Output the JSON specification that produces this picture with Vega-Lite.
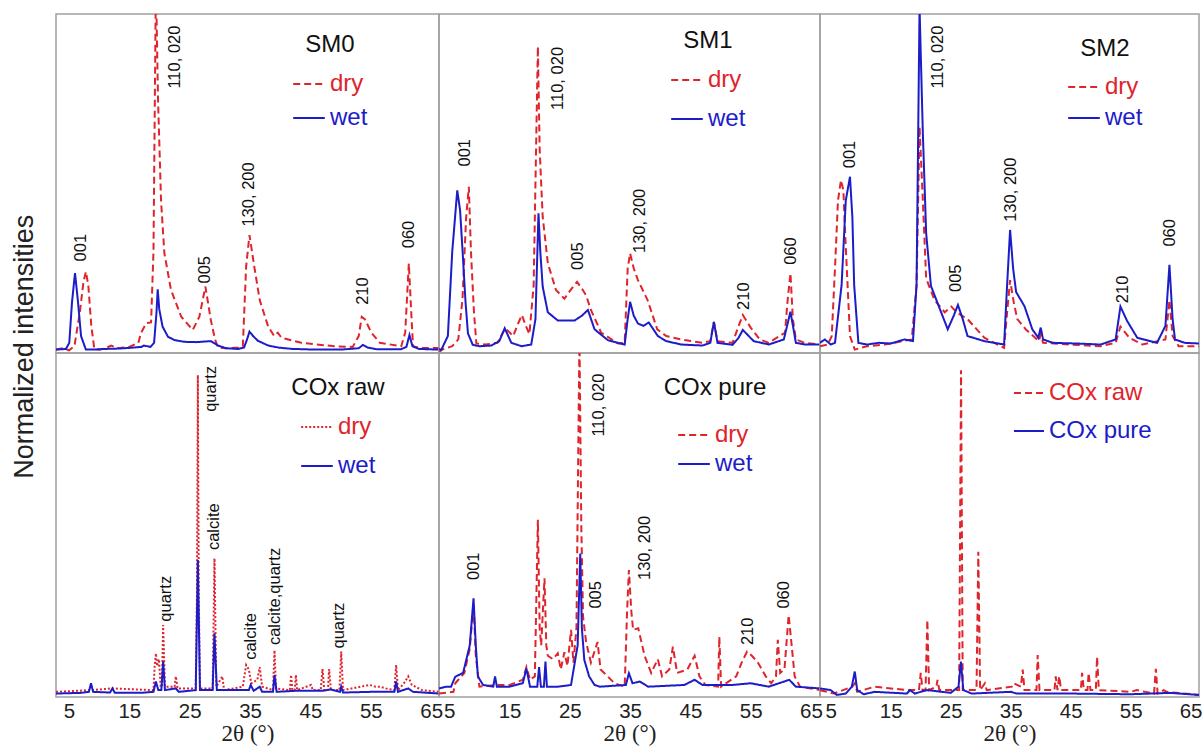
{
"$schema": "https://vega.github.io/schema/vega-lite/v6.json",
"background": "white",
"padding": {"left": 11, "top": 13, "right": 0, "bottom": 0},
"title": {"text": "Normalized intensities", "orient": "left", "anchor": "middle", "fontSize": 27, "fontWeight": "normal", "font": "Liberation Sans", "color": "#222", "offset": 16, "dx": 33},
"config": {"view": {"stroke": "#a0a0a0", "strokeWidth": 1.5}, "font": "Liberation Sans"},
"columns": 3,
"spacing": 0,
"bounds": "flush",
"datasets": {
"sm0": [
{"x":2.85,"y":0.01,"s":"dry"},{"x":4,"y":0.014,"s":"dry"},{"x":5,"y":0.008,"s":"dry"},{"x":5.9,"y":0.02,"s":"dry"},{"x":6.8,"y":0.12,"s":"dry"},{"x":7.4,"y":0.21,"s":"dry"},{"x":7.8,"y":0.24,"s":"dry"},{"x":8.2,"y":0.2,"s":"dry"},{"x":8.7,"y":0.08,"s":"dry"},{"x":9.2,"y":0.012,"s":"dry"},{"x":10,"y":0.01,"s":"dry"},{"x":11,"y":0.014,"s":"dry"},{"x":12,"y":0.022,"s":"dry"},{"x":13,"y":0.014,"s":"dry"},{"x":15,"y":0.018,"s":"dry"},{"x":16.5,"y":0.03,"s":"dry"},{"x":16.9,"y":0.058,"s":"dry"},{"x":17.8,"y":0.088,"s":"dry"},{"x":18.6,"y":0.09,"s":"dry"},{"x":19.0,"y":0.3,"s":"dry"},{"x":19.4,"y":1.1,"s":"dry"},{"x":19.75,"y":0.75,"s":"dry"},{"x":20.25,"y":0.45,"s":"dry"},{"x":20.8,"y":0.295,"s":"dry"},{"x":21.9,"y":0.186,"s":"dry"},{"x":23.6,"y":0.107,"s":"dry"},{"x":25.5,"y":0.068,"s":"dry"},{"x":26.6,"y":0.107,"s":"dry"},{"x":27.6,"y":0.196,"s":"dry"},{"x":28.5,"y":0.097,"s":"dry"},{"x":29.2,"y":0.04,"s":"dry"},{"x":29.7,"y":0.016,"s":"dry"},{"x":31,"y":0.014,"s":"dry"},{"x":33,"y":0.016,"s":"dry"},{"x":33.8,"y":0.02,"s":"dry"},{"x":34.35,"y":0.255,"s":"dry"},{"x":34.9,"y":0.348,"s":"dry"},{"x":35.7,"y":0.255,"s":"dry"},{"x":36.6,"y":0.156,"s":"dry"},{"x":38.0,"y":0.078,"s":"dry"},{"x":39.0,"y":0.05,"s":"dry"},{"x":39.6,"y":0.06,"s":"dry"},{"x":40.2,"y":0.045,"s":"dry"},{"x":43.5,"y":0.03,"s":"dry"},{"x":46,"y":0.025,"s":"dry"},{"x":49,"y":0.02,"s":"dry"},{"x":52,"y":0.018,"s":"dry"},{"x":53.0,"y":0.05,"s":"dry"},{"x":53.5,"y":0.107,"s":"dry"},{"x":54.0,"y":0.1,"s":"dry"},{"x":55.1,"y":0.06,"s":"dry"},{"x":56.5,"y":0.03,"s":"dry"},{"x":60.05,"y":0.02,"s":"dry"},{"x":60.7,"y":0.06,"s":"dry"},{"x":61.3,"y":0.264,"s":"dry"},{"x":61.7,"y":0.12,"s":"dry"},{"x":62.0,"y":0.02,"s":"dry"},{"x":63,"y":0.015,"s":"dry"},{"x":66.3,"y":0.015,"s":"dry"},
{"x":2.85,"y":0.01,"s":"wet"},{"x":4.5,"y":0.012,"s":"wet"},{"x":5.05,"y":0.03,"s":"wet"},{"x":5.5,"y":0.15,"s":"wet"},{"x":6.0,"y":0.236,"s":"wet"},{"x":6.5,"y":0.15,"s":"wet"},{"x":7.0,"y":0.05,"s":"wet"},{"x":7.8,"y":0.01,"s":"wet"},{"x":9,"y":0.01,"s":"wet"},{"x":11,"y":0.012,"s":"wet"},{"x":13,"y":0.013,"s":"wet"},{"x":15,"y":0.015,"s":"wet"},{"x":17.0,"y":0.018,"s":"wet"},{"x":17.4,"y":0.022,"s":"wet"},{"x":18.5,"y":0.018,"s":"wet"},{"x":19.1,"y":0.03,"s":"wet"},{"x":19.5,"y":0.12,"s":"wet"},{"x":19.7,"y":0.188,"s":"wet"},{"x":19.95,"y":0.13,"s":"wet"},{"x":20.5,"y":0.078,"s":"wet"},{"x":21.4,"y":0.048,"s":"wet"},{"x":22.5,"y":0.038,"s":"wet"},{"x":24.1,"y":0.033,"s":"wet"},{"x":26,"y":0.032,"s":"wet"},{"x":28.5,"y":0.035,"s":"wet"},{"x":29.7,"y":0.022,"s":"wet"},{"x":31,"y":0.014,"s":"wet"},{"x":33,"y":0.012,"s":"wet"},{"x":34.0,"y":0.016,"s":"wet"},{"x":34.5,"y":0.04,"s":"wet"},{"x":34.9,"y":0.063,"s":"wet"},{"x":35.5,"y":0.05,"s":"wet"},{"x":36.3,"y":0.036,"s":"wet"},{"x":38,"y":0.022,"s":"wet"},{"x":39.7,"y":0.016,"s":"wet"},{"x":42,"y":0.012,"s":"wet"},{"x":46,"y":0.01,"s":"wet"},{"x":50,"y":0.01,"s":"wet"},{"x":53,"y":0.014,"s":"wet"},{"x":53.7,"y":0.024,"s":"wet"},{"x":54.5,"y":0.016,"s":"wet"},{"x":56,"y":0.011,"s":"wet"},{"x":60,"y":0.011,"s":"wet"},{"x":60.9,"y":0.018,"s":"wet"},{"x":61.4,"y":0.053,"s":"wet"},{"x":61.9,"y":0.02,"s":"wet"},{"x":63,"y":0.012,"s":"wet"},{"x":66.3,"y":0.01,"s":"wet"}
],
"sm0lab": [{"x":7.0,"y":0.27,"t":"001"},{"x":22.5,"y":0.78,"t":"110, 020"},{"x":27.55,"y":0.205,"t":"005"},{"x":34.9,"y":0.373,"t":"130, 200"},{"x":53.7,"y":0.142,"t":"210"},{"x":61.3,"y":0.309,"t":"060"}],
"sm1": [
{"x":3.3,"y":0.0,"s":"dry"},{"x":3.67,"y":0.009,"s":"dry"},{"x":5.5,"y":0.02,"s":"dry"},{"x":6.5,"y":0.04,"s":"dry"},{"x":7.2,"y":0.16,"s":"dry"},{"x":7.8,"y":0.4,"s":"dry"},{"x":8.25,"y":0.49,"s":"dry"},{"x":8.6,"y":0.3,"s":"dry"},{"x":9.1,"y":0.12,"s":"dry"},{"x":9.5,"y":0.028,"s":"dry"},{"x":11,"y":0.025,"s":"dry"},{"x":13,"y":0.03,"s":"dry"},{"x":14.3,"y":0.073,"s":"dry"},{"x":15.6,"y":0.05,"s":"dry"},{"x":16.5,"y":0.09,"s":"dry"},{"x":17.05,"y":0.112,"s":"dry"},{"x":17.7,"y":0.08,"s":"dry"},{"x":18.3,"y":0.056,"s":"dry"},{"x":19.0,"y":0.2,"s":"dry"},{"x":19.4,"y":0.6,"s":"dry"},{"x":19.7,"y":0.904,"s":"dry"},{"x":20.0,"y":0.6,"s":"dry"},{"x":20.5,"y":0.402,"s":"dry"},{"x":21.35,"y":0.265,"s":"dry"},{"x":22.7,"y":0.186,"s":"dry"},{"x":24.1,"y":0.16,"s":"dry"},{"x":25.3,"y":0.19,"s":"dry"},{"x":26.2,"y":0.21,"s":"dry"},{"x":27.0,"y":0.19,"s":"dry"},{"x":27.7,"y":0.17,"s":"dry"},{"x":28.5,"y":0.127,"s":"dry"},{"x":30.2,"y":0.06,"s":"dry"},{"x":33,"y":0.028,"s":"dry"},{"x":34.1,"y":0.03,"s":"dry"},{"x":34.6,"y":0.25,"s":"dry"},{"x":35.0,"y":0.294,"s":"dry"},{"x":35.6,"y":0.25,"s":"dry"},{"x":36.3,"y":0.215,"s":"dry"},{"x":37.9,"y":0.156,"s":"dry"},{"x":39.5,"y":0.07,"s":"dry"},{"x":41,"y":0.05,"s":"dry"},{"x":43.5,"y":0.04,"s":"dry"},{"x":47,"y":0.03,"s":"dry"},{"x":48.3,"y":0.035,"s":"dry"},{"x":48.9,"y":0.092,"s":"dry"},{"x":49.5,"y":0.035,"s":"dry"},{"x":52,"y":0.03,"s":"dry"},{"x":53.0,"y":0.08,"s":"dry"},{"x":53.7,"y":0.112,"s":"dry"},{"x":55,"y":0.075,"s":"dry"},{"x":56.5,"y":0.04,"s":"dry"},{"x":58,"y":0.03,"s":"dry"},{"x":60.7,"y":0.06,"s":"dry"},{"x":61.1,"y":0.15,"s":"dry"},{"x":61.6,"y":0.235,"s":"dry"},{"x":62.0,"y":0.1,"s":"dry"},{"x":62.5,"y":0.04,"s":"dry"},{"x":64,"y":0.03,"s":"dry"},{"x":66.5,"y":0.025,"s":"dry"},
{"x":3.3,"y":0.012,"s":"wet"},{"x":3.67,"y":0.009,"s":"wet"},{"x":4.77,"y":0.05,"s":"wet"},{"x":5.5,"y":0.3,"s":"wet"},{"x":6.33,"y":0.48,"s":"wet"},{"x":6.8,"y":0.42,"s":"wet"},{"x":7.2,"y":0.304,"s":"wet"},{"x":7.7,"y":0.15,"s":"wet"},{"x":8.1,"y":0.058,"s":"wet"},{"x":8.9,"y":0.024,"s":"wet"},{"x":10,"y":0.02,"s":"wet"},{"x":12,"y":0.022,"s":"wet"},{"x":13.3,"y":0.035,"s":"wet"},{"x":14.2,"y":0.073,"s":"wet"},{"x":15.3,"y":0.03,"s":"wet"},{"x":17,"y":0.02,"s":"wet"},{"x":18.6,"y":0.025,"s":"wet"},{"x":19.3,"y":0.1,"s":"wet"},{"x":19.8,"y":0.412,"s":"wet"},{"x":20.1,"y":0.3,"s":"wet"},{"x":20.5,"y":0.196,"s":"wet"},{"x":21.35,"y":0.12,"s":"wet"},{"x":23,"y":0.096,"s":"wet"},{"x":25.8,"y":0.096,"s":"wet"},{"x":27.0,"y":0.11,"s":"wet"},{"x":28.0,"y":0.127,"s":"wet"},{"x":29.1,"y":0.07,"s":"wet"},{"x":31.3,"y":0.038,"s":"wet"},{"x":34.1,"y":0.025,"s":"wet"},{"x":34.6,"y":0.1,"s":"wet"},{"x":35.0,"y":0.151,"s":"wet"},{"x":35.6,"y":0.11,"s":"wet"},{"x":36.3,"y":0.087,"s":"wet"},{"x":37.2,"y":0.08,"s":"wet"},{"x":38.1,"y":0.09,"s":"wet"},{"x":39.6,"y":0.05,"s":"wet"},{"x":41,"y":0.035,"s":"wet"},{"x":43.5,"y":0.025,"s":"wet"},{"x":47,"y":0.022,"s":"wet"},{"x":48.3,"y":0.03,"s":"wet"},{"x":48.9,"y":0.092,"s":"wet"},{"x":49.5,"y":0.03,"s":"wet"},{"x":52,"y":0.024,"s":"wet"},{"x":53.0,"y":0.045,"s":"wet"},{"x":53.7,"y":0.068,"s":"wet"},{"x":55.5,"y":0.035,"s":"wet"},{"x":58,"y":0.025,"s":"wet"},{"x":60.5,"y":0.04,"s":"wet"},{"x":61.6,"y":0.122,"s":"wet"},{"x":62.5,"y":0.03,"s":"wet"},{"x":64,"y":0.025,"s":"wet"},{"x":66.5,"y":0.025,"s":"wet"}
],
"sm1lab": [{"x":7.54,"y":0.55,"t":"001"},{"x":23.0,"y":0.717,"t":"110, 020"},{"x":26.35,"y":0.245,"t":"005"},{"x":36.56,"y":0.295,"t":"130, 200"},{"x":53.97,"y":0.127,"t":"210"},{"x":61.7,"y":0.26,"t":"060"}],
"sm2": [
{"x":3.2,"y":0.02,"s":"dry"},{"x":4.5,"y":0.025,"s":"dry"},{"x":5.16,"y":0.05,"s":"dry"},{"x":5.7,"y":0.25,"s":"dry"},{"x":6.2,"y":0.45,"s":"dry"},{"x":6.7,"y":0.51,"s":"dry"},{"x":7.1,"y":0.48,"s":"dry"},{"x":7.4,"y":0.35,"s":"dry"},{"x":8.2,"y":0.05,"s":"dry"},{"x":9.0,"y":0.01,"s":"dry"},{"x":11,"y":0.02,"s":"dry"},{"x":14,"y":0.025,"s":"dry"},{"x":17,"y":0.035,"s":"dry"},{"x":18.5,"y":0.04,"s":"dry"},{"x":19.3,"y":0.2,"s":"dry"},{"x":19.8,"y":0.667,"s":"dry"},{"x":20.35,"y":0.45,"s":"dry"},{"x":20.9,"y":0.22,"s":"dry"},{"x":22.3,"y":0.156,"s":"dry"},{"x":24.0,"y":0.12,"s":"dry"},{"x":25.1,"y":0.137,"s":"dry"},{"x":26.0,"y":0.12,"s":"dry"},{"x":27.8,"y":0.1,"s":"dry"},{"x":30.6,"y":0.045,"s":"dry"},{"x":33.9,"y":0.015,"s":"dry"},{"x":34.4,"y":0.12,"s":"dry"},{"x":34.9,"y":0.215,"s":"dry"},{"x":35.5,"y":0.15,"s":"dry"},{"x":36.1,"y":0.1,"s":"dry"},{"x":37.5,"y":0.07,"s":"dry"},{"x":39.7,"y":0.035,"s":"dry"},{"x":40.0,"y":0.055,"s":"dry"},{"x":40.4,"y":0.03,"s":"dry"},{"x":45,"y":0.025,"s":"dry"},{"x":50,"y":0.02,"s":"dry"},{"x":52.5,"y":0.03,"s":"dry"},{"x":53.3,"y":0.078,"s":"dry"},{"x":54.8,"y":0.045,"s":"dry"},{"x":57,"y":0.025,"s":"dry"},{"x":60.8,"y":0.04,"s":"dry"},{"x":61.47,"y":0.156,"s":"dry"},{"x":62.0,"y":0.05,"s":"dry"},{"x":63,"y":0.02,"s":"dry"},{"x":66.4,"y":0.02,"s":"dry"},
{"x":3.2,"y":0.03,"s":"wet"},{"x":4,"y":0.04,"s":"wet"},{"x":5,"y":0.025,"s":"wet"},{"x":5.7,"y":0.03,"s":"wet"},{"x":6.8,"y":0.2,"s":"wet"},{"x":7.5,"y":0.45,"s":"wet"},{"x":8.2,"y":0.52,"s":"wet"},{"x":8.6,"y":0.4,"s":"wet"},{"x":8.9,"y":0.2,"s":"wet"},{"x":9.6,"y":0.03,"s":"wet"},{"x":11,"y":0.025,"s":"wet"},{"x":13,"y":0.03,"s":"wet"},{"x":15,"y":0.028,"s":"wet"},{"x":17.3,"y":0.04,"s":"wet"},{"x":18.7,"y":0.035,"s":"wet"},{"x":19.3,"y":0.2,"s":"wet"},{"x":19.8,"y":1.02,"s":"wet"},{"x":20.35,"y":0.648,"s":"wet"},{"x":20.9,"y":0.354,"s":"wet"},{"x":21.7,"y":0.198,"s":"wet"},{"x":23.4,"y":0.12,"s":"wet"},{"x":24.5,"y":0.07,"s":"wet"},{"x":25.5,"y":0.11,"s":"wet"},{"x":26.2,"y":0.142,"s":"wet"},{"x":27.0,"y":0.1,"s":"wet"},{"x":27.8,"y":0.05,"s":"wet"},{"x":30.6,"y":0.035,"s":"wet"},{"x":33.9,"y":0.025,"s":"wet"},{"x":34.4,"y":0.2,"s":"wet"},{"x":34.9,"y":0.363,"s":"wet"},{"x":35.4,"y":0.25,"s":"wet"},{"x":35.9,"y":0.18,"s":"wet"},{"x":37.3,"y":0.138,"s":"wet"},{"x":38.6,"y":0.07,"s":"wet"},{"x":39.6,"y":0.045,"s":"wet"},{"x":40.0,"y":0.075,"s":"wet"},{"x":40.4,"y":0.04,"s":"wet"},{"x":42,"y":0.03,"s":"wet"},{"x":46,"y":0.028,"s":"wet"},{"x":50,"y":0.025,"s":"wet"},{"x":52.5,"y":0.04,"s":"wet"},{"x":53.3,"y":0.137,"s":"wet"},{"x":54.4,"y":0.095,"s":"wet"},{"x":56.1,"y":0.045,"s":"wet"},{"x":59.4,"y":0.03,"s":"wet"},{"x":60.8,"y":0.08,"s":"wet"},{"x":61.47,"y":0.26,"s":"wet"},{"x":62.0,"y":0.1,"s":"wet"},{"x":62.4,"y":0.04,"s":"wet"},{"x":64,"y":0.03,"s":"wet"},{"x":66.4,"y":0.028,"s":"wet"}
],
"sm2lab": [{"x":8.2,"y":0.545,"t":"001"},{"x":22.86,"y":0.78,"t":"110, 020"},{"x":25.9,"y":0.18,"t":"005"},{"x":35.0,"y":0.387,"t":"130, 200"},{"x":53.8,"y":0.147,"t":"210"},{"x":61.6,"y":0.314,"t":"060"}],
"coxraw": [
{"x":2.85,"y":0.015,"s":"dry"},{"x":8.65,"y":0.02,"s":"dry"},{"x":12.2,"y":0.025,"s":"dry"},{"x":19.0,"y":0.02,"s":"dry"},{"x":19.2,"y":0.09,"s":"dry"},{"x":19.4,"y":0.127,"s":"dry"},{"x":19.6,"y":0.09,"s":"dry"},{"x":19.9,"y":0.11,"s":"dry"},{"x":20.2,"y":0.03,"s":"dry"},{"x":20.4,"y":0.03,"s":"dry"},{"x":20.6,"y":0.209,"s":"dry"},{"x":20.9,"y":0.03,"s":"dry"},{"x":22.5,"y":0.03,"s":"dry"},{"x":22.7,"y":0.06,"s":"dry"},{"x":23.0,"y":0.025,"s":"dry"},{"x":26.0,"y":0.025,"s":"dry"},{"x":26.2,"y":0.3,"s":"dry"},{"x":26.35,"y":0.936,"s":"dry"},{"x":26.5,"y":0.3,"s":"dry"},{"x":26.7,"y":0.025,"s":"dry"},{"x":28.8,"y":0.025,"s":"dry"},{"x":29.1,"y":0.403,"s":"dry"},{"x":29.4,"y":0.03,"s":"dry"},{"x":30.4,"y":0.06,"s":"dry"},{"x":30.7,"y":0.02,"s":"dry"},{"x":33.8,"y":0.03,"s":"dry"},{"x":34.35,"y":0.093,"s":"dry"},{"x":34.8,"y":0.08,"s":"dry"},{"x":35.2,"y":0.04,"s":"dry"},{"x":36.2,"y":0.05,"s":"dry"},{"x":36.6,"y":0.087,"s":"dry"},{"x":37.0,"y":0.03,"s":"dry"},{"x":38.8,"y":0.02,"s":"dry"},{"x":39.05,"y":0.136,"s":"dry"},{"x":39.3,"y":0.025,"s":"dry"},{"x":41.6,"y":0.02,"s":"dry"},{"x":41.8,"y":0.064,"s":"dry"},{"x":42.0,"y":0.02,"s":"dry"},{"x":42.4,"y":0.02,"s":"dry"},{"x":42.6,"y":0.064,"s":"dry"},{"x":42.8,"y":0.02,"s":"dry"},{"x":45.1,"y":0.035,"s":"dry"},{"x":45.4,"y":0.02,"s":"dry"},{"x":46.7,"y":0.02,"s":"dry"},{"x":47.0,"y":0.081,"s":"dry"},{"x":47.3,"y":0.02,"s":"dry"},{"x":47.9,"y":0.02,"s":"dry"},{"x":48.1,"y":0.081,"s":"dry"},{"x":48.4,"y":0.02,"s":"dry"},{"x":49.8,"y":0.02,"s":"dry"},{"x":50.1,"y":0.132,"s":"dry"},{"x":50.4,"y":0.02,"s":"dry"},{"x":54.8,"y":0.035,"s":"dry"},{"x":55.8,"y":0.03,"s":"dry"},{"x":56.5,"y":0.03,"s":"dry"},{"x":57.5,"y":0.025,"s":"dry"},{"x":58.9,"y":0.02,"s":"dry"},{"x":59.2,"y":0.093,"s":"dry"},{"x":59.5,"y":0.02,"s":"dry"},{"x":60.5,"y":0.04,"s":"dry"},{"x":61.2,"y":0.06,"s":"dry"},{"x":61.8,"y":0.035,"s":"dry"},{"x":63.5,"y":0.02,"s":"dry"},{"x":66.3,"y":0.015,"s":"dry"},
{"x":2.85,"y":0.01,"s":"wet"},{"x":7,"y":0.012,"s":"wet"},{"x":8.3,"y":0.015,"s":"wet"},{"x":8.65,"y":0.04,"s":"wet"},{"x":9.0,"y":0.015,"s":"wet"},{"x":11.8,"y":0.013,"s":"wet"},{"x":12.2,"y":0.025,"s":"wet"},{"x":12.6,"y":0.012,"s":"wet"},{"x":17,"y":0.012,"s":"wet"},{"x":19.0,"y":0.015,"s":"wet"},{"x":19.4,"y":0.045,"s":"wet"},{"x":19.8,"y":0.02,"s":"wet"},{"x":20.3,"y":0.02,"s":"wet"},{"x":20.6,"y":0.103,"s":"wet"},{"x":20.9,"y":0.02,"s":"wet"},{"x":22.7,"y":0.025,"s":"wet"},{"x":23.2,"y":0.015,"s":"wet"},{"x":26.0,"y":0.02,"s":"wet"},{"x":26.35,"y":0.398,"s":"wet"},{"x":26.7,"y":0.02,"s":"wet"},{"x":28.8,"y":0.02,"s":"wet"},{"x":29.1,"y":0.185,"s":"wet"},{"x":29.5,"y":0.02,"s":"wet"},{"x":30.5,"y":0.02,"s":"wet"},{"x":34.8,"y":0.02,"s":"wet"},{"x":35.1,"y":0.035,"s":"wet"},{"x":35.6,"y":0.018,"s":"wet"},{"x":36.6,"y":0.03,"s":"wet"},{"x":37,"y":0.015,"s":"wet"},{"x":38.8,"y":0.015,"s":"wet"},{"x":39.05,"y":0.064,"s":"wet"},{"x":39.4,"y":0.015,"s":"wet"},{"x":42.5,"y":0.018,"s":"wet"},{"x":47,"y":0.018,"s":"wet"},{"x":48.3,"y":0.022,"s":"wet"},{"x":49.9,"y":0.015,"s":"wet"},{"x":50.1,"y":0.03,"s":"wet"},{"x":50.4,"y":0.013,"s":"wet"},{"x":55,"y":0.015,"s":"wet"},{"x":58.9,"y":0.015,"s":"wet"},{"x":59.2,"y":0.045,"s":"wet"},{"x":59.5,"y":0.015,"s":"wet"},{"x":61.2,"y":0.025,"s":"wet"},{"x":62,"y":0.015,"s":"wet"},{"x":66.3,"y":0.01,"s":"wet"}
],
"coxrawlab": [{"x":21.1,"y":0.219,"t":"quartz"},{"x":28.55,"y":0.829,"t":"quartz"},{"x":29.1,"y":0.427,"t":"calcite"},{"x":35.2,"y":0.108,"t":"calcite"},{"x":39.2,"y":0.151,"t":"calcite,quartz"},{"x":49.66,"y":0.141,"t":"quartz"}],
"coxpure": [
{"x":3.3,"y":0.01,"s":"dry"},{"x":5.7,"y":0.015,"s":"dry"},{"x":6.0,"y":0.04,"s":"dry"},{"x":7.5,"y":0.07,"s":"dry"},{"x":8.4,"y":0.14,"s":"dry"},{"x":9.03,"y":0.272,"s":"dry"},{"x":9.4,"y":0.12,"s":"dry"},{"x":10.0,"y":0.03,"s":"dry"},{"x":12.6,"y":0.035,"s":"dry"},{"x":15,"y":0.035,"s":"dry"},{"x":17.2,"y":0.05,"s":"dry"},{"x":17.8,"y":0.087,"s":"dry"},{"x":18.4,"y":0.05,"s":"dry"},{"x":19.2,"y":0.06,"s":"dry"},{"x":19.7,"y":0.515,"s":"dry"},{"x":20.0,"y":0.2,"s":"dry"},{"x":20.25,"y":0.15,"s":"dry"},{"x":20.8,"y":0.345,"s":"dry"},{"x":21.1,"y":0.15,"s":"dry"},{"x":21.35,"y":0.12,"s":"dry"},{"x":22.2,"y":0.11,"s":"dry"},{"x":23.0,"y":0.127,"s":"dry"},{"x":23.5,"y":0.08,"s":"dry"},{"x":24.1,"y":0.13,"s":"dry"},{"x":24.6,"y":0.09,"s":"dry"},{"x":25.2,"y":0.195,"s":"dry"},{"x":25.6,"y":0.1,"s":"dry"},{"x":26.1,"y":0.2,"s":"dry"},{"x":26.6,"y":1.05,"s":"dry"},{"x":26.9,"y":0.5,"s":"dry"},{"x":27.2,"y":0.233,"s":"dry"},{"x":27.7,"y":0.16,"s":"dry"},{"x":28.5,"y":0.1,"s":"dry"},{"x":29.6,"y":0.16,"s":"dry"},{"x":30.1,"y":0.08,"s":"dry"},{"x":30.7,"y":0.07,"s":"dry"},{"x":32.4,"y":0.04,"s":"dry"},{"x":34.1,"y":0.03,"s":"dry"},{"x":34.5,"y":0.25,"s":"dry"},{"x":34.8,"y":0.369,"s":"dry"},{"x":35.2,"y":0.25,"s":"dry"},{"x":35.5,"y":0.195,"s":"dry"},{"x":36.35,"y":0.2,"s":"dry"},{"x":37.4,"y":0.12,"s":"dry"},{"x":38.5,"y":0.07,"s":"dry"},{"x":39.6,"y":0.11,"s":"dry"},{"x":40.3,"y":0.06,"s":"dry"},{"x":41.5,"y":0.08,"s":"dry"},{"x":42.1,"y":0.146,"s":"dry"},{"x":42.8,"y":0.07,"s":"dry"},{"x":44.5,"y":0.08,"s":"dry"},{"x":45.7,"y":0.12,"s":"dry"},{"x":46.5,"y":0.06,"s":"dry"},{"x":47.5,"y":0.035,"s":"dry"},{"x":49.6,"y":0.03,"s":"dry"},{"x":49.8,"y":0.175,"s":"dry"},{"x":50.1,"y":0.03,"s":"dry"},{"x":52.6,"y":0.06,"s":"dry"},{"x":53.5,"y":0.1,"s":"dry"},{"x":54.4,"y":0.132,"s":"dry"},{"x":55.2,"y":0.12,"s":"dry"},{"x":56.2,"y":0.1,"s":"dry"},{"x":57.5,"y":0.06,"s":"dry"},{"x":58.4,"y":0.04,"s":"dry"},{"x":59.2,"y":0.06,"s":"dry"},{"x":59.5,"y":0.166,"s":"dry"},{"x":59.9,"y":0.07,"s":"dry"},{"x":60.6,"y":0.08,"s":"dry"},{"x":61.3,"y":0.238,"s":"dry"},{"x":61.8,"y":0.15,"s":"dry"},{"x":62.3,"y":0.06,"s":"dry"},{"x":63.2,"y":0.03,"s":"dry"},{"x":66.5,"y":0.02,"s":"dry"},
{"x":3.3,"y":0.025,"s":"wet"},{"x":4.5,"y":0.03,"s":"wet"},{"x":5.3,"y":0.03,"s":"wet"},{"x":6.0,"y":0.059,"s":"wet"},{"x":7.3,"y":0.07,"s":"wet"},{"x":8.4,"y":0.15,"s":"wet"},{"x":9.03,"y":0.287,"s":"wet"},{"x":9.4,"y":0.15,"s":"wet"},{"x":9.75,"y":0.06,"s":"wet"},{"x":10.6,"y":0.035,"s":"wet"},{"x":12.3,"y":0.03,"s":"wet"},{"x":12.6,"y":0.06,"s":"wet"},{"x":12.9,"y":0.03,"s":"wet"},{"x":15,"y":0.03,"s":"wet"},{"x":17.2,"y":0.04,"s":"wet"},{"x":17.8,"y":0.083,"s":"wet"},{"x":18.4,"y":0.03,"s":"wet"},{"x":19.6,"y":0.03,"s":"wet"},{"x":19.9,"y":0.087,"s":"wet"},{"x":20.2,"y":0.03,"s":"wet"},{"x":20.7,"y":0.03,"s":"wet"},{"x":20.96,"y":0.103,"s":"wet"},{"x":21.2,"y":0.03,"s":"wet"},{"x":23,"y":0.03,"s":"wet"},{"x":25.2,"y":0.035,"s":"wet"},{"x":26.3,"y":0.15,"s":"wet"},{"x":26.73,"y":0.417,"s":"wet"},{"x":27.0,"y":0.2,"s":"wet"},{"x":27.4,"y":0.108,"s":"wet"},{"x":28.2,"y":0.06,"s":"wet"},{"x":29.1,"y":0.035,"s":"wet"},{"x":30,"y":0.03,"s":"wet"},{"x":34.3,"y":0.035,"s":"wet"},{"x":34.8,"y":0.069,"s":"wet"},{"x":35.4,"y":0.04,"s":"wet"},{"x":36.6,"y":0.045,"s":"wet"},{"x":38,"y":0.03,"s":"wet"},{"x":44,"y":0.035,"s":"wet"},{"x":45.7,"y":0.05,"s":"wet"},{"x":47,"y":0.035,"s":"wet"},{"x":52,"y":0.035,"s":"wet"},{"x":55,"y":0.04,"s":"wet"},{"x":58,"y":0.03,"s":"wet"},{"x":61.4,"y":0.05,"s":"wet"},{"x":62.5,"y":0.03,"s":"wet"},{"x":66.5,"y":0.025,"s":"wet"}
],
"coxpurelab": [{"x":9.1,"y":0.34,"t":"001"},{"x":29.9,"y":0.757,"t":"110, 020"},{"x":29.35,"y":0.257,"t":"005"},{"x":37.4,"y":0.34,"t":"130, 200"},{"x":54.5,"y":0.151,"t":"210"},{"x":60.6,"y":0.257,"t":"060"}],
"cmp": [
{"x":3.2,"y":0.02,"s":"COx raw"},{"x":5.5,"y":0.01,"s":"COx raw"},{"x":8.6,"y":0.03,"s":"COx raw"},{"x":9.0,"y":0.04,"s":"COx raw"},{"x":9.4,"y":0.015,"s":"COx raw"},{"x":12.3,"y":0.03,"s":"COx raw"},{"x":17.7,"y":0.02,"s":"COx raw"},{"x":19.7,"y":0.02,"s":"COx raw"},{"x":20.0,"y":0.07,"s":"COx raw"},{"x":20.3,"y":0.02,"s":"COx raw"},{"x":20.8,"y":0.02,"s":"COx raw"},{"x":21.1,"y":0.224,"s":"COx raw"},{"x":21.4,"y":0.02,"s":"COx raw"},{"x":22.6,"y":0.03,"s":"COx raw"},{"x":22.8,"y":0.05,"s":"COx raw"},{"x":23.1,"y":0.02,"s":"COx raw"},{"x":26.4,"y":0.02,"s":"COx raw"},{"x":26.72,"y":0.95,"s":"COx raw"},{"x":27.0,"y":0.02,"s":"COx raw"},{"x":29.3,"y":0.02,"s":"COx raw"},{"x":29.6,"y":0.422,"s":"COx raw"},{"x":29.9,"y":0.02,"s":"COx raw"},{"x":30.7,"y":0.04,"s":"COx raw"},{"x":31.0,"y":0.02,"s":"COx raw"},{"x":35.2,"y":0.03,"s":"COx raw"},{"x":35.5,"y":0.04,"s":"COx raw"},{"x":36.7,"y":0.03,"s":"COx raw"},{"x":37.0,"y":0.08,"s":"COx raw"},{"x":37.3,"y":0.02,"s":"COx raw"},{"x":39.3,"y":0.02,"s":"COx raw"},{"x":39.5,"y":0.122,"s":"COx raw"},{"x":39.8,"y":0.02,"s":"COx raw"},{"x":42.3,"y":0.02,"s":"COx raw"},{"x":42.5,"y":0.06,"s":"COx raw"},{"x":42.8,"y":0.02,"s":"COx raw"},{"x":43.1,"y":0.06,"s":"COx raw"},{"x":43.4,"y":0.02,"s":"COx raw"},{"x":46.7,"y":0.02,"s":"COx raw"},{"x":46.9,"y":0.07,"s":"COx raw"},{"x":47.2,"y":0.02,"s":"COx raw"},{"x":47.8,"y":0.02,"s":"COx raw"},{"x":48.0,"y":0.07,"s":"COx raw"},{"x":48.3,"y":0.02,"s":"COx raw"},{"x":49.2,"y":0.02,"s":"COx raw"},{"x":49.4,"y":0.117,"s":"COx raw"},{"x":49.7,"y":0.02,"s":"COx raw"},{"x":55,"y":0.015,"s":"COx raw"},{"x":56,"y":0.02,"s":"COx raw"},{"x":58.9,"y":0.01,"s":"COx raw"},{"x":59.2,"y":0.082,"s":"COx raw"},{"x":59.5,"y":0.01,"s":"COx raw"},{"x":60.5,"y":0.02,"s":"COx raw"},{"x":61,"y":0.015,"s":"COx raw"},{"x":66.4,"y":0.006,"s":"COx raw"},
{"x":3.2,"y":0.025,"s":"COx pure"},{"x":5.0,"y":0.02,"s":"COx pure"},{"x":6.0,"y":0.006,"s":"COx pure"},{"x":7.5,"y":0.01,"s":"COx pure"},{"x":8.5,"y":0.03,"s":"COx pure"},{"x":9.0,"y":0.074,"s":"COx pure"},{"x":9.4,"y":0.02,"s":"COx pure"},{"x":10.5,"y":0.008,"s":"COx pure"},{"x":12.3,"y":0.015,"s":"COx pure"},{"x":17.7,"y":0.01,"s":"COx pure"},{"x":18.2,"y":0.02,"s":"COx pure"},{"x":19.0,"y":0.01,"s":"COx pure"},{"x":20.0,"y":0.015,"s":"COx pure"},{"x":21.1,"y":0.02,"s":"COx pure"},{"x":25,"y":0.012,"s":"COx pure"},{"x":26.3,"y":0.03,"s":"COx pure"},{"x":26.7,"y":0.103,"s":"COx pure"},{"x":27.1,"y":0.02,"s":"COx pure"},{"x":28.5,"y":0.01,"s":"COx pure"},{"x":35.0,"y":0.015,"s":"COx pure"},{"x":36,"y":0.01,"s":"COx pure"},{"x":45,"y":0.01,"s":"COx pure"},{"x":55,"y":0.008,"s":"COx pure"},{"x":61.5,"y":0.012,"s":"COx pure"},{"x":66.4,"y":0.006,"s":"COx pure"}
]
},
"resolve": {"scale": {"x": "independent", "y": "independent", "color": "independent", "strokeDash": "independent"}, "legend": {"color": "independent", "strokeDash": "independent"}},
"concat": [
{"width": 383, "height": 339, "layer": [
 {"data": {"name": "sm0"}, "mark": {"type": "line", "clip": true, "strokeWidth": 2},
  "encoding": {
   "x": {"field": "x", "type": "quantitative", "scale": {"domain": [2.85, 66.3], "nice": false, "zero": false}, "axis": null},
   "y": {"field": "y", "type": "quantitative", "scale": {"domain": [0, 1], "nice": false}, "axis": null},
   "color": {"field": "s", "type": "nominal", "scale": {"domain": ["dry", "wet"], "range": ["#e0242c", "#1c1cc8"]},
     "legend": {"title": "SM0", "orient": "none", "legendX": 236, "legendY": 19, "titleFontSize": 24, "titleFontWeight": "normal", "titleColor": "#111", "titleAnchor": "middle", "titlePadding": 10, "labelFontSize": 24, "labelColor": {"expr": "datum.label === 'dry' ? '#e0242c' : '#1c1cc8'"}, "symbolType": "stroke", "symbolSize": 1000, "symbolStrokeWidth": 2, "rowPadding": 5, "labelOffset": 4}},
   "strokeDash": {"field": "s", "type": "nominal", "scale": {"domain": ["dry", "wet"], "range": [[7, 4], [1, 0]]},
     "legend": {"title": "SM0", "orient": "none", "legendX": 236, "legendY": 19, "titleFontSize": 24, "titleFontWeight": "normal", "titleColor": "#111", "titleAnchor": "middle", "titlePadding": 10, "labelFontSize": 24, "labelColor": {"expr": "datum.label === 'dry' ? '#e0242c' : '#1c1cc8'"}, "symbolType": "stroke", "symbolSize": 1000, "symbolStrokeWidth": 2, "rowPadding": 5, "labelOffset": 4}}
  }},
 {"data": {"name": "sm0lab"}, "mark": {"type": "text", "angle": 270, "align": "left", "baseline": "middle", "fontSize": 16.5, "color": "#111"},
  "encoding": {"x": {"field": "x", "type": "quantitative"}, "y": {"field": "y", "type": "quantitative"}, "text": {"field": "t"}}}
]},
{"width": 381, "height": 339, "layer": [
 {"data": {"name": "sm1"}, "mark": {"type": "line", "clip": true, "strokeWidth": 2},
  "encoding": {
   "x": {"field": "x", "type": "quantitative", "scale": {"domain": [3.3, 66.5], "nice": false, "zero": false}, "axis": null},
   "y": {"field": "y", "type": "quantitative", "scale": {"domain": [0, 1], "nice": false}, "axis": null},
   "color": {"field": "s", "type": "nominal", "scale": {"domain": ["dry", "wet"], "range": ["#e0242c", "#1c1cc8"]},
     "legend": {"title": "SM1", "orient": "none", "legendX": 231, "legendY": 15, "titleFontSize": 24, "titleFontWeight": "normal", "titleColor": "#111", "titleAnchor": "middle", "titlePadding": 10, "labelFontSize": 24, "labelColor": {"expr": "datum.label === 'dry' ? '#e0242c' : '#1c1cc8'"}, "symbolType": "stroke", "symbolSize": 1000, "symbolStrokeWidth": 2, "rowPadding": 10, "labelOffset": 4}},
   "strokeDash": {"field": "s", "type": "nominal", "scale": {"domain": ["dry", "wet"], "range": [[7, 4], [1, 0]]},
     "legend": {"title": "SM1", "orient": "none", "legendX": 231, "legendY": 15, "titleFontSize": 24, "titleFontWeight": "normal", "titleColor": "#111", "titleAnchor": "middle", "titlePadding": 10, "labelFontSize": 24, "labelColor": {"expr": "datum.label === 'dry' ? '#e0242c' : '#1c1cc8'"}, "symbolType": "stroke", "symbolSize": 1000, "symbolStrokeWidth": 2, "rowPadding": 10, "labelOffset": 4}}
  }},
 {"data": {"name": "sm1lab"}, "mark": {"type": "text", "angle": 270, "align": "left", "baseline": "middle", "fontSize": 16.5, "color": "#111"},
  "encoding": {"x": {"field": "x", "type": "quantitative"}, "y": {"field": "y", "type": "quantitative"}, "text": {"field": "t"}}}
]},
{"width": 379, "height": 339, "layer": [
 {"data": {"name": "sm2"}, "mark": {"type": "line", "clip": true, "strokeWidth": 2},
  "encoding": {
   "x": {"field": "x", "type": "quantitative", "scale": {"domain": [3.2, 66.4], "nice": false, "zero": false}, "axis": null},
   "y": {"field": "y", "type": "quantitative", "scale": {"domain": [0, 1], "nice": false}, "axis": null},
   "color": {"field": "s", "type": "nominal", "scale": {"domain": ["dry", "wet"], "range": ["#e0242c", "#1c1cc8"]},
     "legend": {"title": "SM2", "orient": "none", "legendX": 247, "legendY": 23, "titleFontSize": 24, "titleFontWeight": "normal", "titleColor": "#111", "titleAnchor": "middle", "titlePadding": 9, "labelFontSize": 24, "labelColor": {"expr": "datum.label === 'dry' ? '#e0242c' : '#1c1cc8'"}, "symbolType": "stroke", "symbolSize": 1000, "symbolStrokeWidth": 2, "rowPadding": 2, "labelOffset": 4}},
   "strokeDash": {"field": "s", "type": "nominal", "scale": {"domain": ["dry", "wet"], "range": [[7, 4], [1, 0]]},
     "legend": {"title": "SM2", "orient": "none", "legendX": 247, "legendY": 23, "titleFontSize": 24, "titleFontWeight": "normal", "titleColor": "#111", "titleAnchor": "middle", "titlePadding": 9, "labelFontSize": 24, "labelColor": {"expr": "datum.label === 'dry' ? '#e0242c' : '#1c1cc8'"}, "symbolType": "stroke", "symbolSize": 1000, "symbolStrokeWidth": 2, "rowPadding": 2, "labelOffset": 4}}
  }},
 {"data": {"name": "sm2lab"}, "mark": {"type": "text", "angle": 270, "align": "left", "baseline": "middle", "fontSize": 16.5, "color": "#111"},
  "encoding": {"x": {"field": "x", "type": "quantitative"}, "y": {"field": "y", "type": "quantitative"}, "text": {"field": "t"}}}
]},
{"width": 383, "height": 344, "layer": [
 {"data": {"name": "coxraw"}, "mark": {"type": "line", "clip": true, "strokeWidth": 2},
  "encoding": {
   "x": {"field": "x", "type": "quantitative", "scale": {"domain": [2.85, 66.3], "nice": false, "zero": false}, "axis": {"values": [5, 15, 25, 35, 45, 55, 65], "title": "2θ (°)", "ticks": false, "domain": false, "grid": false, "labelFontSize": 20.5, "labelColor": "#222", "labelPadding": 4, "labelOverlap": false, "labelFlush": false, "titleFont": "Liberation Serif", "titleFontSize": 23, "titleFontWeight": "normal", "titleColor": "#222", "titlePadding": 1}},
   "y": {"field": "y", "type": "quantitative", "scale": {"domain": [0, 1], "nice": false}, "axis": null},
   "color": {"field": "s", "type": "nominal", "scale": {"domain": ["dry", "wet"], "range": ["#e0242c", "#1c1cc8"]},
     "legend": {"title": "COx raw", "orient": "none", "legendX": 235, "legendY": 23, "titleFontSize": 24, "titleFontWeight": "normal", "titleColor": "#111", "titleAnchor": "middle", "titlePadding": 10, "labelFontSize": 24, "labelColor": {"expr": "datum.label === 'dry' ? '#e0242c' : '#1c1cc8'"}, "symbolType": "stroke", "symbolSize": 1000, "symbolStrokeWidth": 2, "rowPadding": 10, "labelOffset": 4}},
   "strokeDash": {"field": "s", "type": "nominal", "scale": {"domain": ["dry", "wet"], "range": [[2, 2], [1, 0]]},
     "legend": {"title": "COx raw", "orient": "none", "legendX": 235, "legendY": 23, "titleFontSize": 24, "titleFontWeight": "normal", "titleColor": "#111", "titleAnchor": "middle", "titlePadding": 10, "labelFontSize": 24, "labelColor": {"expr": "datum.label === 'dry' ? '#e0242c' : '#1c1cc8'"}, "symbolType": "stroke", "symbolSize": 1000, "symbolStrokeWidth": 2, "rowPadding": 10, "labelOffset": 4}}
  }},
 {"data": {"name": "coxrawlab"}, "mark": {"type": "text", "angle": 270, "align": "left", "baseline": "middle", "fontSize": 16.5, "color": "#111"},
  "encoding": {"x": {"field": "x", "type": "quantitative"}, "y": {"field": "y", "type": "quantitative"}, "text": {"field": "t"}}}
]},
{"width": 381, "height": 344, "layer": [
 {"data": {"name": "coxpure"}, "mark": {"type": "line", "clip": true, "strokeWidth": 2},
  "encoding": {
   "x": {"field": "x", "type": "quantitative", "scale": {"domain": [3.3, 66.5], "nice": false, "zero": false}, "axis": {"values": [5, 15, 25, 35, 45, 55, 65], "title": "2θ (°)", "ticks": false, "domain": false, "grid": false, "labelFontSize": 20.5, "labelColor": "#222", "labelPadding": 4, "labelOverlap": false, "labelFlush": false, "titleFont": "Liberation Serif", "titleFontSize": 23, "titleFontWeight": "normal", "titleColor": "#222", "titlePadding": 1}},
   "y": {"field": "y", "type": "quantitative", "scale": {"domain": [0, 1], "nice": false}, "axis": null},
   "color": {"field": "s", "type": "nominal", "scale": {"domain": ["dry", "wet"], "range": ["#e0242c", "#1c1cc8"]},
     "legend": {"title": "COx pure", "orient": "none", "legendX": 225, "legendY": 23, "titleFontSize": 24, "titleFontWeight": "normal", "titleColor": "#111", "titleAnchor": "middle", "titlePadding": 18, "labelFontSize": 24, "labelColor": {"expr": "datum.label === 'dry' ? '#e0242c' : '#1c1cc8'"}, "symbolType": "stroke", "symbolSize": 1000, "symbolStrokeWidth": 2, "rowPadding": 0, "labelOffset": 4}},
   "strokeDash": {"field": "s", "type": "nominal", "scale": {"domain": ["dry", "wet"], "range": [[7, 4], [1, 0]]},
     "legend": {"title": "COx pure", "orient": "none", "legendX": 225, "legendY": 23, "titleFontSize": 24, "titleFontWeight": "normal", "titleColor": "#111", "titleAnchor": "middle", "titlePadding": 18, "labelFontSize": 24, "labelColor": {"expr": "datum.label === 'dry' ? '#e0242c' : '#1c1cc8'"}, "symbolType": "stroke", "symbolSize": 1000, "symbolStrokeWidth": 2, "rowPadding": 0, "labelOffset": 4}}
  }},
 {"data": {"name": "coxpurelab"}, "mark": {"type": "text", "angle": 270, "align": "left", "baseline": "middle", "fontSize": 16.5, "color": "#111"},
  "encoding": {"x": {"field": "x", "type": "quantitative"}, "y": {"field": "y", "type": "quantitative"}, "text": {"field": "t"}}}
]},
{"width": 379, "height": 344, "layer": [
 {"data": {"name": "cmp"}, "mark": {"type": "line", "clip": true, "strokeWidth": 2},
  "encoding": {
   "x": {"field": "x", "type": "quantitative", "scale": {"domain": [3.2, 66.4], "nice": false, "zero": false}, "axis": {"values": [5, 15, 25, 35, 45, 55, 65], "title": "2θ (°)", "ticks": false, "domain": false, "grid": false, "labelFontSize": 20.5, "labelColor": "#222", "labelPadding": 4, "labelOverlap": false, "labelFlush": false, "titleFont": "Liberation Serif", "titleFontSize": 23, "titleFontWeight": "normal", "titleColor": "#222", "titlePadding": 1}},
   "y": {"field": "y", "type": "quantitative", "scale": {"domain": [0, 1], "nice": false}, "axis": null},
   "color": {"field": "s", "type": "nominal", "scale": {"domain": ["COx raw", "COx pure"], "range": ["#e0242c", "#1c1cc8"]},
     "legend": {"title": null, "orient": "none", "legendX": 193, "legendY": 24, "labelFontSize": 24, "labelColor": {"expr": "datum.label === 'COx raw' ? '#e0242c' : '#1c1cc8'"}, "symbolType": "stroke", "symbolSize": 900, "symbolStrokeWidth": 2, "rowPadding": 10, "labelOffset": 4}},
   "strokeDash": {"field": "s", "type": "nominal", "scale": {"domain": ["COx raw", "COx pure"], "range": [[7, 4], [1, 0]]},
     "legend": {"title": null, "orient": "none", "legendX": 193, "legendY": 24, "labelFontSize": 24, "labelColor": {"expr": "datum.label === 'COx raw' ? '#e0242c' : '#1c1cc8'"}, "symbolType": "stroke", "symbolSize": 900, "symbolStrokeWidth": 2, "rowPadding": 10, "labelOffset": 4}}
  }}
]}
]
}
